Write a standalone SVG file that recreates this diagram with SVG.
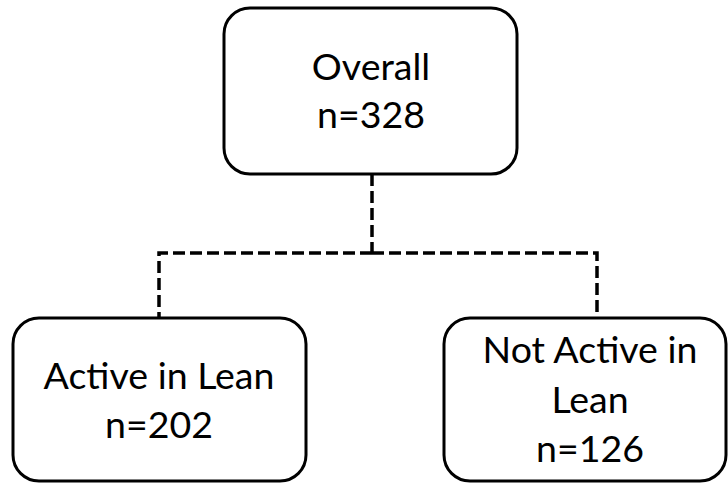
<svg xmlns="http://www.w3.org/2000/svg" width="728" height="484" viewBox="0 0 728 484">
  <style>
    .box { fill: #ffffff; stroke: #000000; stroke-width: 3; }
    .label { font-family: Lato, "Open Sans", sans-serif; font-size: 37.5px; fill: #000000; text-anchor: middle; }
    .link { fill: none; stroke: #000000; stroke-width: 3.5; stroke-dasharray: 12 5; }
  </style>
  <rect width="728" height="484" fill="#ffffff"/>
  <g id="connectors">
    <path class="link" d="M372,174 V253"/>
    <path class="link" d="M372,253 H159 V318"/>
    <path class="link" d="M372,253 H597 V318"/>
  </g>
  <g id="overall">
    <rect class="box" x="224" y="8" width="293" height="166" rx="26"/>
    <text class="label" x="371" y="80">Overall</text>
    <text class="label" x="371" y="128">n=328</text>
  </g>
  <g id="active">
    <rect class="box" x="13" y="318" width="293" height="163" rx="26"/>
    <text class="label" x="159" y="389">Active in Lean</text>
    <text class="label" x="159" y="438">n=202</text>
  </g>
  <g id="not-active">
    <rect class="box" x="444" y="318" width="282" height="163" rx="26"/>
    <text class="label" x="590" y="363">Not Active in</text>
    <text class="label" x="590" y="413">Lean</text>
    <text class="label" x="590" y="462">n=126</text>
  </g>
</svg>
